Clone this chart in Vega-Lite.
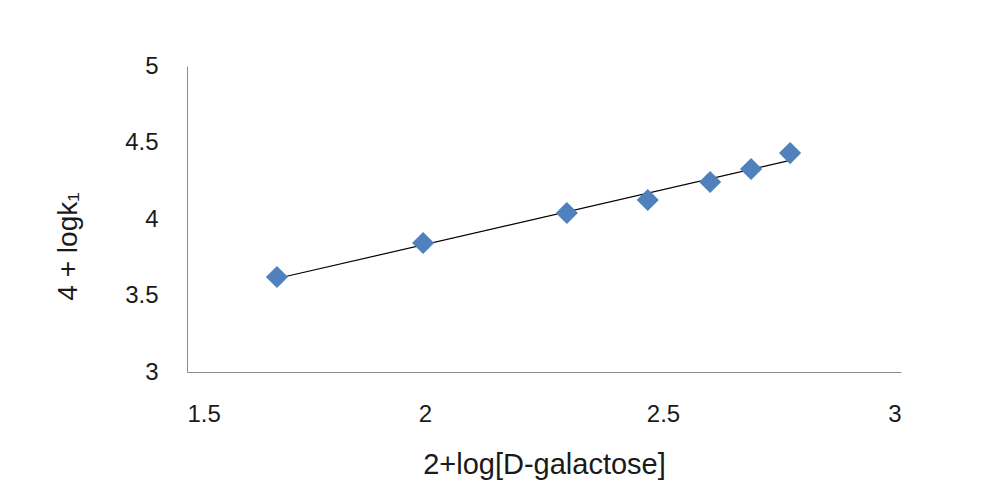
{
  "$schema": "https://vega.github.io/schema/vega-lite/v6.json",
  "width": 714,
  "height": 306,
  "autosize": {"type": "none"},
  "padding": {"left": 187, "top": 66, "right": 98, "bottom": 119},
  "background": "white",
  "config": {
    "view": {"stroke": null},
    "axis": {
      "grid": false,
      "ticks": false,
      "domainColor": "#8c8c8c",
      "domainWidth": 1,
      "labelFont": "Liberation Sans",
      "labelFontSize": 24,
      "labelColor": "#1a1a1a",
      "titleFont": "Liberation Sans",
      "titleFontWeight": "normal",
      "titleColor": "#1a1a1a"
    }
  },
  "data": {
    "values": [
      {"x": 1.689, "y": 3.621},
      {"x": 1.996, "y": 3.843},
      {"x": 2.298, "y": 4.039},
      {"x": 2.468, "y": 4.124},
      {"x": 2.599, "y": 4.242},
      {"x": 2.685, "y": 4.327},
      {"x": 2.767, "y": 4.431}
    ]
  },
  "layer": [
    {
      "transform": [{"regression": "y", "on": "x"}],
      "mark": {"type": "line", "color": "#000000", "strokeWidth": 1.2},
      "encoding": {
        "x": {"field": "x", "type": "quantitative"},
        "y": {"field": "y", "type": "quantitative"}
      }
    },
    {
      "mark": {"type": "point", "shape": "diamond", "filled": true, "color": "#4F81BD", "opacity": 1, "size": 490},
      "encoding": {
        "x": {
          "field": "x",
          "type": "quantitative",
          "scale": {"domain": [1.5, 3], "nice": false, "zero": false},
          "axis": {
            "values": [1.5, 2, 2.5, 3],
            "format": "~g",
            "labelPadding": 30,
            "title": "2+log[D-galactose]",
            "titleFontSize": 29,
            "titlePadding": 24
          }
        },
        "y": {
          "field": "y",
          "type": "quantitative",
          "scale": {"domain": [3, 5], "nice": false, "zero": false},
          "axis": {
            "values": [3, 3.5, 4, 4.5, 5],
            "format": "~g",
            "labelPadding": 29,
            "title": "4 + logk₁",
            "titleFontSize": 28,
            "titlePadding": 42,
            "titleY": 180
          }
        }
      }
    }
  ]
}
